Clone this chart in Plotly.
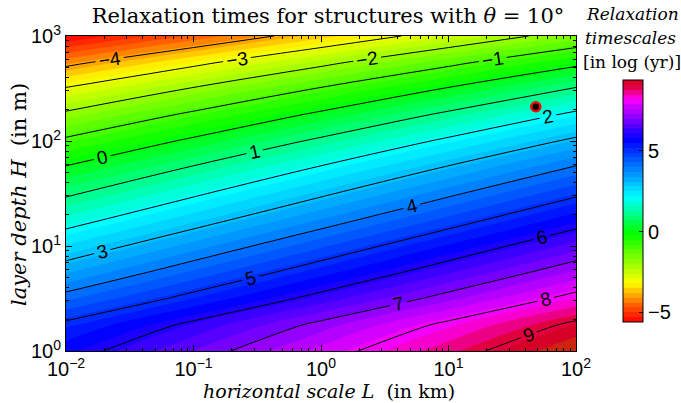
import plotly.graph_objects as go
from plotly.colors import find_intermediate_color, hex_to_rgb, label_rgb

# ---- data ----
L_km = [0.01, 0.1, 1, 10, 100]                      # horizontal scale grid (km)
logH = [0, 0.25, 0.5, 0.75, 1.0, 1.25, 1.5, 1.75, 2.0, 2.25, 2.5, 2.75, 3.0]
H_m = [10 ** e for e in logH]                        # layer depth grid (m)

# log10 relaxation time (yr) at each (H row, L column)
z_v000 = [5.71, 6.71, 7.71, 8.71, 9.71]
z_v025 = [5.14, 6.14, 7.14, 8.14, 9.14]
z_v050 = [4.21, 5.21, 6.21, 7.21, 8.21]
z_v075 = [3.36, 4.36, 5.36, 6.36, 7.36]
z_v100 = [2.54, 3.54, 4.54, 5.54, 6.54]
z_v125 = [1.71, 2.71, 3.71, 4.71, 5.71]
z_v150 = [0.89, 1.89, 2.89, 3.89, 4.89]
z_v175 = [0.05, 1.05, 2.05, 3.05, 4.05]
z_v200 = [-0.86, 0.14, 1.14, 2.14, 3.14]
z_v225 = [-1.85, -0.85, 0.15, 1.15, 2.15]
z_v250 = [-2.95, -1.95, -0.95, 0.05, 1.05]
z_v275 = [-4.20, -3.20, -2.20, -1.20, -0.20]
z_v300 = [-5.63, -4.63, -3.63, -2.63, -1.63]
z_grid = [z_v000, z_v025, z_v050, z_v075, z_v100, z_v125, z_v150,
          z_v175, z_v200, z_v225, z_v250, z_v275, z_v300]

point_L = [48.4]     # highlighted structure
point_H = [212]

x_tickvals = [0.01, 0.1, 1, 10, 100]
x_ticktext = ["10<sup>\u22122</sup>", "10<sup>\u22121</sup>", "10<sup>0</sup>",
              "10<sup>1</sup>", "10<sup>2</sup>"]
y_tickvals = [1, 10, 100, 1000]
y_ticktext = ["10<sup>0</sup>", "10<sup>1</sup>", "10<sup>2</sup>", "10<sup>3</sup>"]
cb_tickvals = [-5, 0, 5]
cb_ticktext = ["\u22125", "0", "5"]

# colour anchors (value, colour)
color_vals = [-5.6, -4.5, -3.2, -0.1, 2.1, 5.7, 7.0, 8.2, 9.0, 9.4, 9.75]
color_hex = ["#ff0000", "#ff6400", "#ffff00", "#00ff00", "#00ffff",
             "#0000ff", "#8000ff", "#ff00ff", "#e0003c", "#d20020", "#c84000"]

CB_MIN, CB_MAX = -5.6, 9.4       # colour-bar range
FILL_MAX = 9.75                  # field exceeds the bar in the corner
STEP = 0.3


def color_at(v):
    if v <= color_vals[0]:
        return label_rgb(hex_to_rgb(color_hex[0]))
    for i in range(1, len(color_vals)):
        if v <= color_vals[i]:
            t = (v - color_vals[i - 1]) / (color_vals[i] - color_vals[i - 1])
            c = find_intermediate_color(hex_to_rgb(color_hex[i - 1]),
                                        hex_to_rgb(color_hex[i]), t)
            return label_rgb(tuple(int(round(k)) for k in c))
    return label_rgb(hex_to_rgb(color_hex[-1]))


def smooth_scale(lo, hi):
    out = []
    for v, h in zip(color_vals, color_hex):
        if lo <= v <= hi:
            out.append([(v - lo) / (hi - lo), h])
    if out[0][0] > 0:
        out.insert(0, [0.0, color_at(lo)])
    if out[-1][0] < 1:
        out.append([1.0, color_at(hi)])
    return out


def stepped_scale(lo, hi, step):
    n = int(round((hi - lo) / step))
    out = []
    for i in range(n):
        a, b = i / n, (i + 1) / n
        c = color_at(lo + (i + 0.5) * step)
        out.append([a, c])
        out.append([b, c])
    return out


W, H = 681, 403
ML, MR, MT, MB = 66, 105, 36, 52
PW, PH = W - ML - MR, H - MT - MB


def px(xp):
    return (xp - ML) / PW


def py(yp):
    return (H - MB - yp) / PH


SANS = "Liberation Sans, Arial, sans-serif"
SERIF = "DejaVu Serif, serif"

fig = go.Figure()

fig.add_trace(go.Contour(
    x=L_km, y=H_m, z=z_grid,
    colorscale=smooth_scale(CB_MIN, FILL_MAX), zmin=CB_MIN, zmax=FILL_MAX, zauto=False,
    autocontour=False,
    contours=dict(start=CB_MIN, end=FILL_MAX, size=STEP, coloring="fill", showlines=False),
    line=dict(width=0),
    showscale=False,
    hoverinfo="skip",
))

fig.add_trace(go.Contour(
    x=L_km, y=H_m, z=z_grid,
    showscale=False, autocontour=False,
    contours=dict(start=-4, end=9, size=1, coloring="none", showlabels=True,
                  labelfont=dict(family=SANS, size=19, color="black")),
    line=dict(color="black", width=1),
    hoverinfo="skip",
))

fig.add_trace(go.Scatter(
    x=point_L, y=point_H, mode="markers",
    marker=dict(color="black", size=9, line=dict(color="red", width=2.5)),
    showlegend=False, hoverinfo="skip",
))

# colour bar (carried by an invisible marker trace)
fig.add_trace(go.Scatter(
    x=[None, None], y=[None, None], mode="markers",
    marker=dict(
        color=[CB_MIN, CB_MAX], cmin=CB_MIN, cmax=CB_MAX,
        colorscale=stepped_scale(CB_MIN, CB_MAX, STEP), showscale=True,
        colorbar=dict(
            x=px(623), xanchor="left", y=py(201), yanchor="middle",
            thickness=20, thicknessmode="pixels",
            len=242 / PH, lenmode="fraction",
            outlinecolor="black", outlinewidth=1,
            tickmode="array", tickvals=cb_tickvals, ticktext=cb_ticktext,
            ticks="inside", ticklen=4, tickcolor="black",
            tickfont=dict(family=SANS, size=20, color="black"),
            xpad=0, ypad=0,
        ),
    ),
    showlegend=False, hoverinfo="skip",
))

axis_common = dict(
    type="log", showgrid=False, zeroline=False,
    showline=True, linecolor="black", linewidth=1, mirror="allticks",
    ticks="inside", ticklen=6, tickcolor="black",
    tickmode="array",
    tickfont=dict(family=SANS, size=20, color="black"),
    minor=dict(ticks="inside", ticklen=3, tickcolor="black", dtick="D1", showgrid=False),
)

fig.update_layout(
    width=W, height=H,
    margin=dict(l=ML, r=MR, t=MT, b=MB, autoexpand=False),
    paper_bgcolor="white", plot_bgcolor="white",
    showlegend=False,
    xaxis=dict(axis_common, range=[-2, 2], tickvals=x_tickvals, ticktext=x_ticktext,
               ticklabelstandoff=0),
    yaxis=dict(axis_common, range=[0, 3], tickvals=y_tickvals, ticktext=y_ticktext),
    title=dict(text="Relaxation times for structures with <i>\u03b8</i> = 10\u00b0",
               font=dict(family=SERIF, size=21, color="black"),
               xref="container", x=328 / W, xanchor="center",
               yref="container", y=1 - 16 / H, yanchor="middle"),
    annotations=[
        dict(text="<i>horizontal scale L</i>  (in km)", x=px(329), y=py(391),
             xref="paper", yref="paper", showarrow=False, xanchor="center", yanchor="middle",
             font=dict(family=SERIF, size=19, color="black")),
        dict(text="<i>layer depth H</i>  (in m)", x=px(19), y=py(195), textangle=-90,
             xref="paper", yref="paper", showarrow=False, xanchor="center", yanchor="middle",
             font=dict(family=SERIF, size=21, color="black")),
        dict(text="<i>Relaxation</i>", x=px(632), y=py(14),
             xref="paper", yref="paper", showarrow=False, xanchor="center", yanchor="middle",
             font=dict(family=SERIF, size=17, color="black")),
        dict(text="<i>timescales</i>", x=px(630), y=py(38),
             xref="paper", yref="paper", showarrow=False, xanchor="center", yanchor="middle",
             font=dict(family=SERIF, size=17, color="black")),
        dict(text="[in log (yr)]", x=px(632), y=py(62),
             xref="paper", yref="paper", showarrow=False, xanchor="center", yanchor="middle",
             font=dict(family=SERIF, size=17, color="black")),
    ],
)

fig.write_html("out.html")
